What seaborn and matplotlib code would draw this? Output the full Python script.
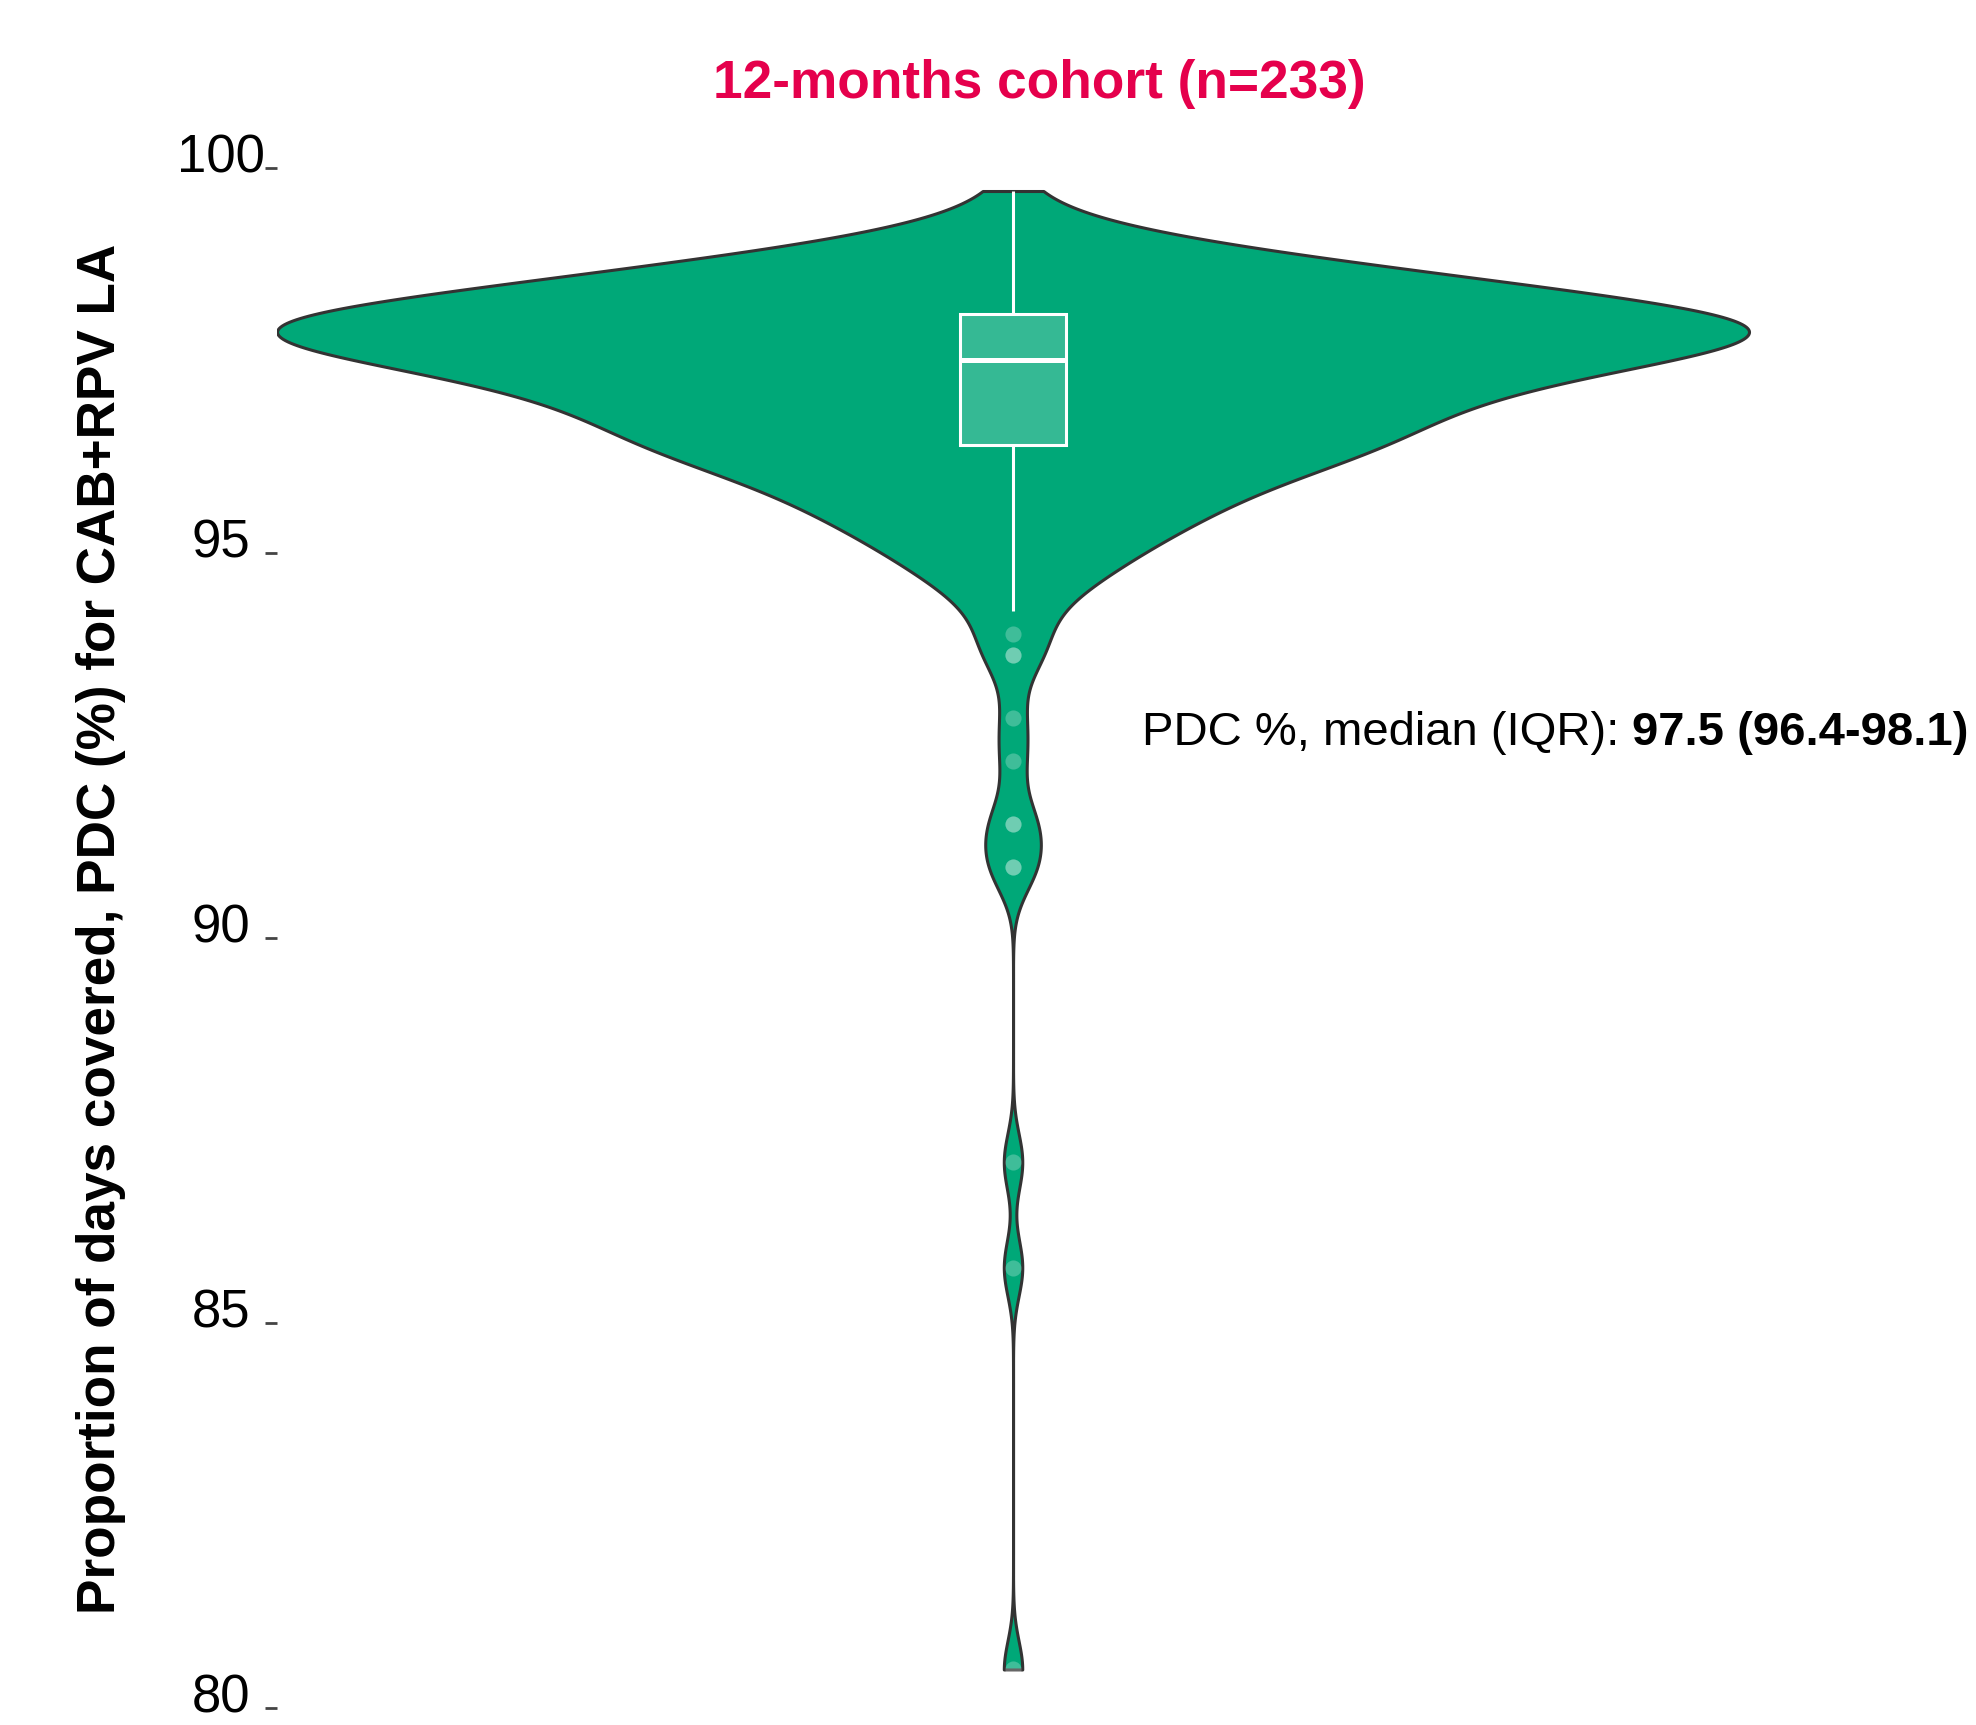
import numpy as np
import seaborn as sns
import matplotlib.pyplot as plt
from matplotlib import transforms

# Proportion of days covered (%) in the 12-month cohort, with the number of
# patients at each value
pdc_values = [80.5, 85.72, 87.09, 90.92, 91.48, 92.3, 92.85, 93.67, 93.95,
              94.24, 94.5, 94.7, 94.9, 95.1, 95.3, 95.5, 95.7, 95.9, 96.1, 96.3,
              96.4, 96.5, 96.6, 96.7, 96.8, 96.9, 97.0, 97.1, 97.2, 97.3, 97.4,
              97.5, 97.6, 97.7, 97.8, 97.9, 98.0,
              98.1, 98.2, 98.3, 98.4, 98.5, 98.6, 98.7, 98.8, 98.9, 99.0,
              99.1, 99.2, 99.3, 99.7]
patient_counts = [1, 1, 1, 2, 2, 1, 1, 2, 1,
                  1, 2, 2, 3, 3, 4, 5, 5, 6, 7, 8,
                  4, 4, 5, 5, 5, 5, 5, 6, 6, 6, 7,
                  8, 8, 9, 10, 11, 12,
                  9, 8, 7, 6, 6, 5, 5, 4, 3, 2,
                  1, 1, 1, 1]

y_ticks = [80, 85, 90, 95, 100]
title_text = "12-months cohort (n={n})"
ylabel_text = "Proportion of days covered, PDC (%) for CAB+RPV LA"

pdc = np.repeat(np.array(pdc_values, dtype=float), patient_counts)
q1, med, q3 = np.percentile(pdc, [25, 50, 75])

GREEN = "#00A878"
BOX_FILL = "#35B994"
CRIMSON = "#E5004C"
DPI = 200

sns.set_style("white")
plt.rcParams["font.family"] = ["Liberation Sans", "DejaVu Sans"]

fig = plt.figure(figsize=(1976 / DPI, 1725 / DPI), dpi=DPI)
ax = fig.add_axes([0.1402, 0.00986, 0.8598, 0.8928])

# kernel bandwidth of about 0.37 percentage points
bw = 0.37 / pdc.std(ddof=1)

sns.violinplot(y=pdc, color=GREEN, saturation=1, inner=None, cut=0,
               bw_method=bw, gridsize=1200, width=1.0,
               linecolor="#333333", linewidth=1.1, ax=ax)

sns.boxplot(y=pdc, color=BOX_FILL, saturation=1, width=0.072, whis=1.4,
            linecolor="white", linewidth=1.1,
            boxprops=dict(facecolor=BOX_FILL, edgecolor="white", linewidth=1.1),
            medianprops=dict(color="white", linewidth=1.8),
            whiskerprops=dict(color="white", linewidth=1.1),
            capprops=dict(visible=False),
            flierprops=dict(marker="o", markerfacecolor=(1, 1, 1, 0.25),
                            markeredgecolor="none", markersize=5.8,
                            linestyle="none"),
            ax=ax)

ax.set_xlim(-0.5, 0.6542)
ax.set_ylim(80, 100)
ax.set_xticks([])
ax.set_xlabel("")
for side in ["left", "right", "top", "bottom"]:
    ax.spines[side].set_visible(False)

ax.set_yticks(y_ticks)
ax.set_yticklabels([str(t) for t in y_ticks])
ax.tick_params(axis="y", which="major", left=True, length=4.3, width=1.0,
               color="#444444", pad=15.8, labelsize=19, labelcolor="black")

# centred tick labels sitting just above the tick marks
offset = transforms.ScaledTranslation(0, -5 / DPI, fig.dpi_scale_trans)
for lab in ax.get_yticklabels():
    lab.set_horizontalalignment("center")
    lab.set_verticalalignment("baseline")
    lab.set_transform(lab.get_transform() + offset)

ax.set_ylabel(ylabel_text, fontsize=19.15, fontweight="bold", color="black")
ax.yaxis.set_label_coords((126 - 277) / 1699, 0.506)

fig.text(1039 / 1976, 1 - 98 / 1725, title_text.format(n=len(pdc)),
         ha="center", va="baseline", fontsize=19.2, fontweight="bold",
         color=CRIMSON)

# summary of the distribution next to the violin
t1 = fig.text(1142 / 1976, 1 - 745 / 1725, "PDC %, median (IQR): ",
              ha="left", va="baseline", fontsize=17, color="black")
ax.annotate(f"{med:.1f} ({q1:.1f}-{q3:.1f})", xy=(1, 0), xycoords=t1,
            ha="left", va="bottom", fontsize=17, fontweight="bold",
            color="black", annotation_clip=False)

fig.savefig("out.png", dpi=DPI, facecolor="white")
